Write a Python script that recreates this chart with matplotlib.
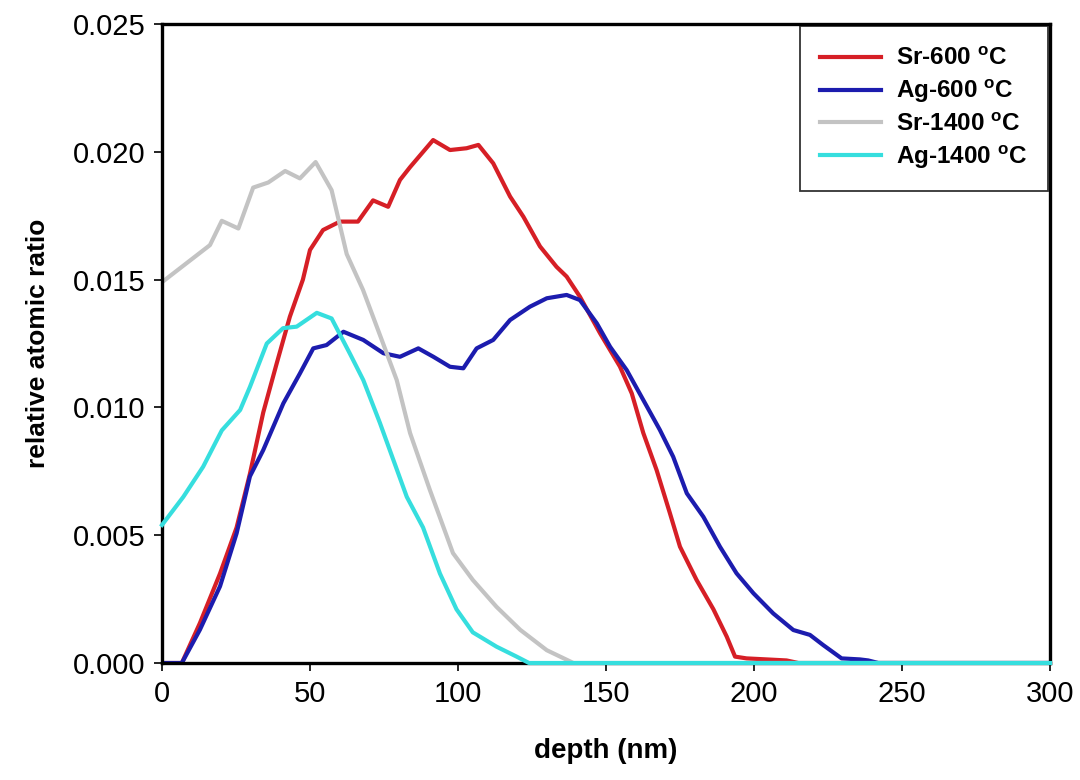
import matplotlib
matplotlib.use("Agg")
import matplotlib.pyplot as plt
from matplotlib.ticker import FormatStrFormatter

plt.rcParams['font.family'] = ['Liberation Sans', 'DejaVu Sans']
plt.rcParams['mathtext.fontset'] = 'custom'
plt.rcParams['mathtext.rm'] = 'Liberation Sans'
plt.rcParams['mathtext.bf'] = 'Liberation Sans:bold'

# depth (nm) and relative atomic ratio for each profile
sr600_x = [0, 6.7, 12.8, 19.6, 25.2, 29.7, 34.2, 38.7, 43.2, 47.6, 50, 54.4, 60.1, 66.2, 71.3,
           76.4, 80.4, 83.8, 91.6, 97.3, 102.9, 106.9, 111.9, 117.6, 122.1, 127.7, 133.3, 136.7,
           141.2, 148, 154.7, 158.7, 162.6, 167.1, 171.6, 175, 180.6, 186.3, 190.8, 193.6, 197.5,
           204.3, 211, 215, 300]
sr600_y = [0, 0, 0.00156, 0.0035, 0.0053, 0.0074, 0.0098, 0.0117, 0.01355, 0.0150, 0.01616,
           0.01694, 0.01727, 0.01727, 0.0181, 0.01785, 0.0189, 0.0194, 0.02046, 0.02007, 0.02014,
           0.02027, 0.01955, 0.01825, 0.01746, 0.0163, 0.0155, 0.01512, 0.01433, 0.0129, 0.0116,
           0.01055, 0.0090, 0.00755, 0.00586, 0.00455, 0.00325, 0.0021, 0.00103, 0.00025, 0.00018,
           0.00014, 0.0001, 0, 0]

ag600_x = [0, 6.7, 12.8, 19.6, 25.2, 29.7, 34.2, 41, 46.6, 51.1, 55.6, 61.3, 68, 74.8, 80.4,
           86.6, 91.7, 97.3, 101.8, 106.3, 111.9, 117.6, 124.3, 130, 136.7, 141.2, 146.9, 151.4,
           157, 162.6, 168.2, 172.7, 177.3, 182.9, 188.5, 194.1, 199.8, 206.5, 213.3, 218.9,
           223.4, 229.6, 235.8, 238.6, 242, 300]
ag600_y = [0, 0, 0.0013, 0.003, 0.00507, 0.0073, 0.00833, 0.01016, 0.01133, 0.01231, 0.01244,
           0.01296, 0.01264, 0.01212, 0.01198, 0.01231, 0.01198, 0.01159, 0.01153, 0.01231,
           0.01264, 0.01342, 0.01394, 0.01427, 0.0144, 0.0142, 0.01329, 0.01237, 0.01146, 0.01029,
           0.00912, 0.00807, 0.00664, 0.00572, 0.00455, 0.00351, 0.00273, 0.00194, 0.00129,
           0.0011, 0.0007, 0.00018, 0.00014, 0.0001, 0, 0]

sr1400_x = [0, 16.2, 20.2, 25.8, 30.8, 35.9, 41.6, 46.6, 51.9, 57.3, 62.4, 67.9, 74.7, 79.3,
            83.8, 90.5, 98.3, 105, 113, 121, 130, 139, 300]
sr1400_y = [0.0149, 0.01635, 0.0173, 0.0170, 0.0186, 0.0188, 0.01925, 0.01896, 0.0196, 0.0185,
            0.0160, 0.0146, 0.0125, 0.01107, 0.0090, 0.00677, 0.0043, 0.00325, 0.0022, 0.0013,
            0.0005, 0, 0]

ag1400_x = [0, 7.2, 13.9, 20.2, 26.4, 29.7, 35.4, 40.9, 45.5, 52.3, 57.3, 63.5, 68, 73.6, 82.7,
            88.2, 93.9, 99.5, 105, 113, 119.8, 124, 300]
ag1400_y = [0.0054, 0.0065, 0.00768, 0.0091, 0.0099, 0.0108, 0.0125, 0.0131, 0.01316, 0.0137,
            0.01348, 0.0121, 0.01107, 0.0094, 0.0065, 0.0053, 0.0035, 0.0021, 0.0012, 0.00064,
            0.00025, 0, 0]

fig = plt.figure(figsize=(10.8, 7.8), dpi=100)
ax = fig.add_axes([0.15, 0.15, 0.8222, 0.8192])

lw = 3.0
ax.plot(sr600_x, sr600_y, color='#d61f26', lw=lw, label=r'Sr-600 $^\mathbf{o}$C')
ax.plot(ag600_x, ag600_y, color='#1c1cae', lw=lw, label=r'Ag-600 $^\mathbf{o}$C')
ax.plot(sr1400_x, sr1400_y, color='#c3c3c3', lw=lw, label=r'Sr-1400 $^\mathbf{o}$C')
# cyan sits on top of the bottom spine along the zero stretch
ax.plot(ag1400_x, ag1400_y, color='#36dede', lw=lw, label=r'Ag-1400 $^\mathbf{o}$C',
        zorder=3, clip_on=False)

ax.set_xlim(0, 300)
ax.set_ylim(0, 0.025)
ax.set_xticks(range(0, 301, 50))
ax.set_yticks([0, 0.005, 0.01, 0.015, 0.02, 0.025])
ax.yaxis.set_major_formatter(FormatStrFormatter('%.3f'))
ax.tick_params(direction='out', length=6, width=1.2, labelsize=21, pad=6)

for s in ax.spines.values():
    s.set_linewidth(2.4)
    s.set_color('black')

ax.set_xlabel('depth (nm)', fontsize=20, fontweight='bold', labelpad=22)
ax.set_ylabel('relative atomic ratio', fontsize=19, fontweight='bold', labelpad=16)

leg = ax.legend(loc='upper right', borderaxespad=0.1, frameon=True, fancybox=False,
                handlelength=2.5, handletextpad=0.6, labelspacing=0.3, borderpad=0.85,
                prop={'weight': 'bold', 'size': 17.5})
leg.get_frame().set_edgecolor('black')
leg.get_frame().set_linewidth(1.3)

fig.savefig('out.png', dpi=100)
